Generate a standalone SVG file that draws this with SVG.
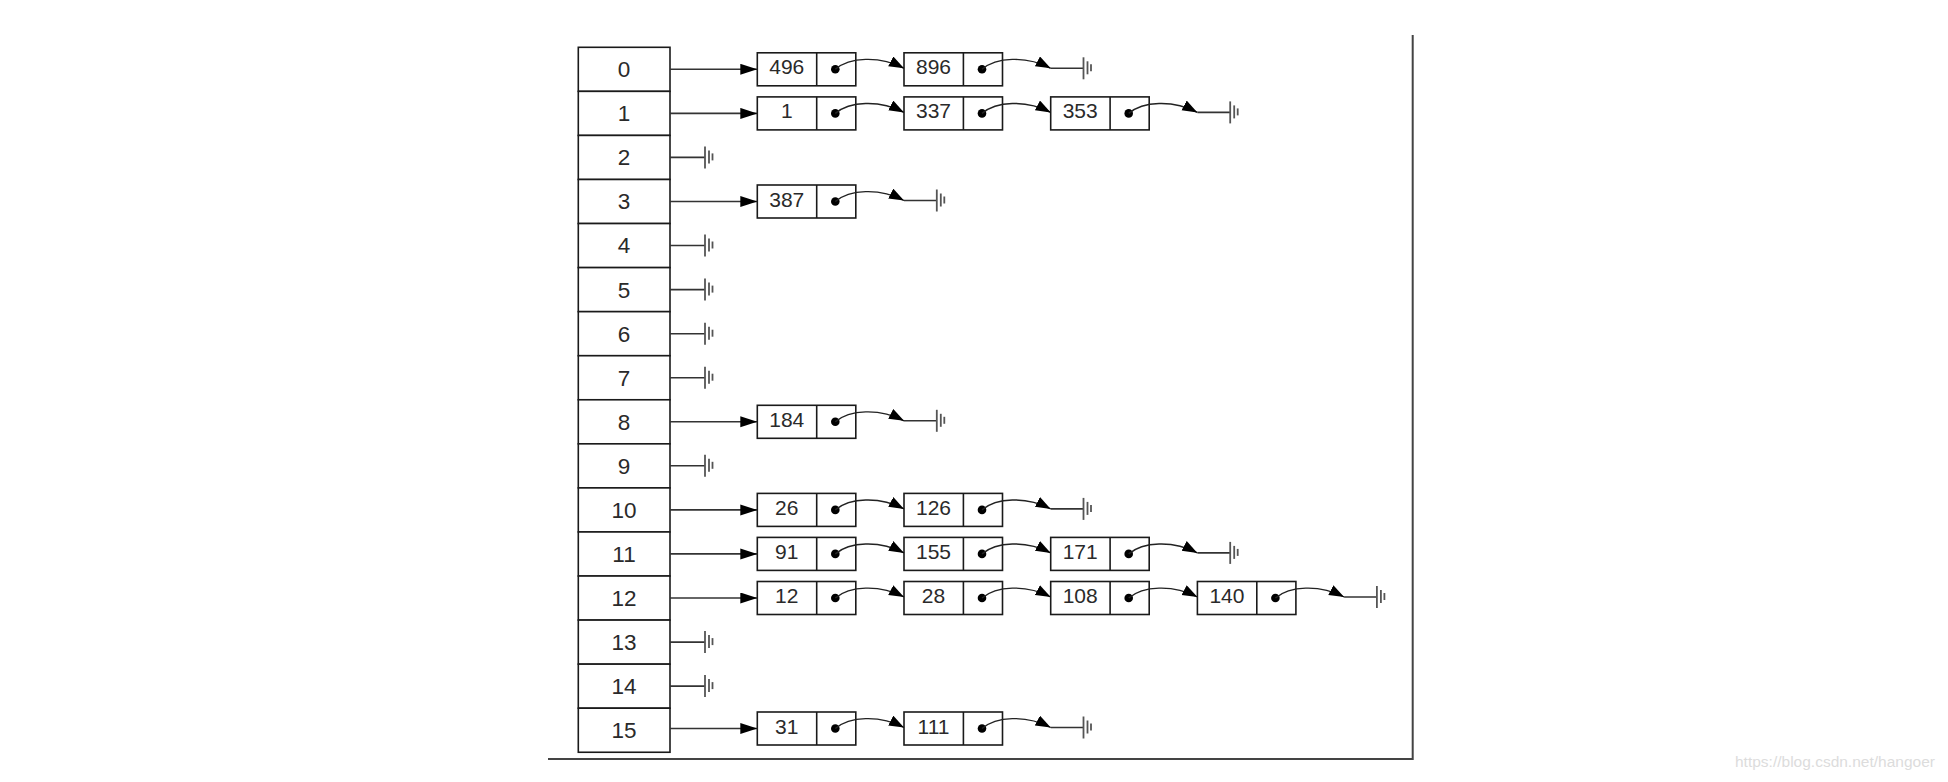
<svg xmlns="http://www.w3.org/2000/svg" xmlns:xlink="http://www.w3.org/1999/xlink" width="1948" height="782" viewBox="0 0 1948 782">
<style>
.cell{fill:#fff;stroke:#1a1a1a;stroke-width:1.6}
.box{fill:#fff;stroke:#1a1a1a;stroke-width:1.6}
.div{stroke:#1a1a1a;stroke-width:1.6}
.lbl{font-family:"Liberation Sans",Arial,sans-serif;font-size:21px;fill:#2a2a2a;text-anchor:middle}
.tl{font-size:22.5px}
.dot{fill:#000}
.ln{fill:none;stroke:#333;stroke-width:1.6}
.crv{fill:none;stroke:#222;stroke-width:1.4}
.gnd line{stroke:#555;stroke-width:1.8}
.frame{fill:none;stroke:#444;stroke-width:2}
.wm{font-family:"Liberation Sans",Arial,sans-serif;font-size:15.5px;fill:#dcdcdc}
</style>
<defs>
<marker id="ah" markerUnits="userSpaceOnUse" markerWidth="18" markerHeight="12" refX="17" refY="5.5" orient="auto">
<path d="M0,0 L17,5.5 L0,11 z" fill="#000"/>
</marker>
<marker id="ah2" markerUnits="userSpaceOnUse" markerWidth="16" markerHeight="12" refX="15" refY="5.5" orient="auto">
<path d="M0,0 L15,5.5 L0,11 z" fill="#000"/>
</marker>
<g id="gnd" class="gnd">
<line x1="0" y1="-11" x2="0" y2="11"/>
<line x1="4" y1="-7" x2="4" y2="6"/>
<line x1="7.5" y1="-4" x2="7.5" y2="3"/>
</g>
</defs>
<rect width="1948" height="782" fill="#fff"/>

<g id="table">
<g id="cell-0"><rect class="cell" x="578.3" y="47.3" width="91.7" height="44.06"/><text class="lbl tl" x="624" y="77.2">0</text></g>
<g id="cell-1"><rect class="cell" x="578.3" y="91.36" width="91.7" height="44.06"/><text class="lbl tl" x="624" y="121.3">1</text></g>
<g id="cell-2"><rect class="cell" x="578.3" y="135.42" width="91.7" height="44.06"/><text class="lbl tl" x="624" y="165.3">2</text></g>
<g id="cell-3"><rect class="cell" x="578.3" y="179.48" width="91.7" height="44.06"/><text class="lbl tl" x="624" y="209.4">3</text></g>
<g id="cell-4"><rect class="cell" x="578.3" y="223.54" width="91.7" height="44.06"/><text class="lbl tl" x="624" y="253.4">4</text></g>
<g id="cell-5"><rect class="cell" x="578.3" y="267.6" width="91.7" height="44.06"/><text class="lbl tl" x="624" y="297.5">5</text></g>
<g id="cell-6"><rect class="cell" x="578.3" y="311.66" width="91.7" height="44.06"/><text class="lbl tl" x="624" y="341.6">6</text></g>
<g id="cell-7"><rect class="cell" x="578.3" y="355.72" width="91.7" height="44.06"/><text class="lbl tl" x="624" y="385.6">7</text></g>
<g id="cell-8"><rect class="cell" x="578.3" y="399.78" width="91.7" height="44.06"/><text class="lbl tl" x="624" y="429.7">8</text></g>
<g id="cell-9"><rect class="cell" x="578.3" y="443.84" width="91.7" height="44.06"/><text class="lbl tl" x="624" y="473.7">9</text></g>
<g id="cell-10"><rect class="cell" x="578.3" y="487.9" width="91.7" height="44.06"/><text class="lbl tl" x="624" y="517.8">10</text></g>
<g id="cell-11"><rect class="cell" x="578.3" y="531.96" width="91.7" height="44.06"/><text class="lbl tl" x="624" y="561.8">11</text></g>
<g id="cell-12"><rect class="cell" x="578.3" y="576.02" width="91.7" height="44.06"/><text class="lbl tl" x="624" y="605.9">12</text></g>
<g id="cell-13"><rect class="cell" x="578.3" y="620.08" width="91.7" height="44.06"/><text class="lbl tl" x="624" y="650">13</text></g>
<g id="cell-14"><rect class="cell" x="578.3" y="664.14" width="91.7" height="44.06"/><text class="lbl tl" x="624" y="694">14</text></g>
<g id="cell-15"><rect class="cell" x="578.3" y="708.2" width="91.7" height="44.06"/><text class="lbl tl" x="624" y="738.1">15</text></g>
</g>

<g id="nodes">
<g id="n496"><rect class="box" x="757.3" y="52.8" width="98.5" height="33"/><line class="div" x1="816.7" y1="52.8" x2="816.7" y2="85.8"/><text class="lbl" x="786.8" y="74.3">496</text><circle class="dot" cx="835.3" cy="69.3" r="4.3"/></g>
<g id="n896"><rect class="box" x="904" y="52.8" width="98.5" height="33"/><line class="div" x1="963.4" y1="52.8" x2="963.4" y2="85.8"/><text class="lbl" x="933.5" y="74.3">896</text><circle class="dot" cx="982" cy="69.3" r="4.3"/></g>
<g id="n1"><rect class="box" x="757.3" y="96.9" width="98.5" height="33"/><line class="div" x1="816.7" y1="96.9" x2="816.7" y2="129.9"/><text class="lbl" x="786.8" y="118.4">1</text><circle class="dot" cx="835.3" cy="113.4" r="4.3"/></g>
<g id="n337"><rect class="box" x="904" y="96.9" width="98.5" height="33"/><line class="div" x1="963.4" y1="96.9" x2="963.4" y2="129.9"/><text class="lbl" x="933.5" y="118.4">337</text><circle class="dot" cx="982" cy="113.4" r="4.3"/></g>
<g id="n353"><rect class="box" x="1050.7" y="96.9" width="98.5" height="33"/><line class="div" x1="1110.1" y1="96.9" x2="1110.1" y2="129.9"/><text class="lbl" x="1080.2" y="118.4">353</text><circle class="dot" cx="1128.7" cy="113.4" r="4.3"/></g>
<g id="n387"><rect class="box" x="757.3" y="185" width="98.5" height="33"/><line class="div" x1="816.7" y1="185" x2="816.7" y2="218"/><text class="lbl" x="786.8" y="206.5">387</text><circle class="dot" cx="835.3" cy="201.5" r="4.3"/></g>
<g id="n184"><rect class="box" x="757.3" y="405.3" width="98.5" height="33"/><line class="div" x1="816.7" y1="405.3" x2="816.7" y2="438.3"/><text class="lbl" x="786.8" y="426.8">184</text><circle class="dot" cx="835.3" cy="421.8" r="4.3"/></g>
<g id="n26"><rect class="box" x="757.3" y="493.4" width="98.5" height="33"/><line class="div" x1="816.7" y1="493.4" x2="816.7" y2="526.4"/><text class="lbl" x="786.8" y="514.9">26</text><circle class="dot" cx="835.3" cy="509.9" r="4.3"/></g>
<g id="n126"><rect class="box" x="904" y="493.4" width="98.5" height="33"/><line class="div" x1="963.4" y1="493.4" x2="963.4" y2="526.4"/><text class="lbl" x="933.5" y="514.9">126</text><circle class="dot" cx="982" cy="509.9" r="4.3"/></g>
<g id="n91"><rect class="box" x="757.3" y="537.4" width="98.5" height="33"/><line class="div" x1="816.7" y1="537.4" x2="816.7" y2="570.4"/><text class="lbl" x="786.8" y="558.9">91</text><circle class="dot" cx="835.3" cy="553.9" r="4.3"/></g>
<g id="n155"><rect class="box" x="904" y="537.4" width="98.5" height="33"/><line class="div" x1="963.4" y1="537.4" x2="963.4" y2="570.4"/><text class="lbl" x="933.5" y="558.9">155</text><circle class="dot" cx="982" cy="553.9" r="4.3"/></g>
<g id="n171"><rect class="box" x="1050.7" y="537.4" width="98.5" height="33"/><line class="div" x1="1110.1" y1="537.4" x2="1110.1" y2="570.4"/><text class="lbl" x="1080.2" y="558.9">171</text><circle class="dot" cx="1128.7" cy="553.9" r="4.3"/></g>
<g id="n12"><rect class="box" x="757.3" y="581.5" width="98.5" height="33"/><line class="div" x1="816.7" y1="581.5" x2="816.7" y2="614.5"/><text class="lbl" x="786.8" y="603">12</text><circle class="dot" cx="835.3" cy="598" r="4.3"/></g>
<g id="n28"><rect class="box" x="904" y="581.5" width="98.5" height="33"/><line class="div" x1="963.4" y1="581.5" x2="963.4" y2="614.5"/><text class="lbl" x="933.5" y="603">28</text><circle class="dot" cx="982" cy="598" r="4.3"/></g>
<g id="n108"><rect class="box" x="1050.7" y="581.5" width="98.5" height="33"/><line class="div" x1="1110.1" y1="581.5" x2="1110.1" y2="614.5"/><text class="lbl" x="1080.2" y="603">108</text><circle class="dot" cx="1128.7" cy="598" r="4.3"/></g>
<g id="n140"><rect class="box" x="1197.4" y="581.5" width="98.5" height="33"/><line class="div" x1="1256.8" y1="581.5" x2="1256.8" y2="614.5"/><text class="lbl" x="1226.9" y="603">140</text><circle class="dot" cx="1275.4" cy="598" r="4.3"/></g>
<g id="n31"><rect class="box" x="757.3" y="712" width="98.5" height="33"/><line class="div" x1="816.7" y1="712" x2="816.7" y2="745"/><text class="lbl" x="786.8" y="733.5">31</text><circle class="dot" cx="835.3" cy="728.5" r="4.3"/></g>
<g id="n111"><rect class="box" x="904" y="712" width="98.5" height="33"/><line class="div" x1="963.4" y1="712" x2="963.4" y2="745"/><text class="lbl" x="933.5" y="733.5">111</text><circle class="dot" cx="982" cy="728.5" r="4.3"/></g>
</g>

<g id="connectors">
<path class="ln" marker-end="url(#ah)" d="M670,69.3 H757.3"/>
<path class="ln" marker-end="url(#ah)" d="M670,113.4 H757.3"/>
<path class="ln" marker-end="url(#ah)" d="M670,201.5 H757.3"/>
<path class="ln" marker-end="url(#ah)" d="M670,421.8 H757.3"/>
<path class="ln" marker-end="url(#ah)" d="M670,509.9 H757.3"/>
<path class="ln" marker-end="url(#ah)" d="M670,553.9 H757.3"/>
<path class="ln" marker-end="url(#ah)" d="M670,598 H757.3"/>
<path class="ln" marker-end="url(#ah)" d="M670,728.5 H757.3"/>
<path class="ln" d="M670,157.4 H705"/><use xlink:href="#gnd" href="#gnd" x="705" y="157.4"/>
<path class="ln" d="M670,245.5 H705"/><use xlink:href="#gnd" href="#gnd" x="705" y="245.5"/>
<path class="ln" d="M670,289.6 H705"/><use xlink:href="#gnd" href="#gnd" x="705" y="289.6"/>
<path class="ln" d="M670,333.7 H705"/><use xlink:href="#gnd" href="#gnd" x="705" y="333.7"/>
<path class="ln" d="M670,377.7 H705"/><use xlink:href="#gnd" href="#gnd" x="705" y="377.7"/>
<path class="ln" d="M670,465.8 H705"/><use xlink:href="#gnd" href="#gnd" x="705" y="465.8"/>
<path class="ln" d="M670,642.1 H705"/><use xlink:href="#gnd" href="#gnd" x="705" y="642.1"/>
<path class="ln" d="M670,686.1 H705"/><use xlink:href="#gnd" href="#gnd" x="705" y="686.1"/>
<path class="crv" marker-end="url(#ah2)" d="M835.3,69.3 c14,-12 44,-14 68.7,-1"/>
<path class="crv" marker-end="url(#ah2)" d="M982,69.3 c14,-12 44,-14 68.7,-1"/>
<path class="ln" d="M1050.7,68.3 H1083.5"/><use xlink:href="#gnd" href="#gnd" x="1083.5" y="68.3"/>
<path class="crv" marker-end="url(#ah2)" d="M835.3,113.4 c14,-12 44,-14 68.7,-1"/>
<path class="crv" marker-end="url(#ah2)" d="M982,113.4 c14,-12 44,-14 68.7,-1"/>
<path class="crv" marker-end="url(#ah2)" d="M1128.7,113.4 c14,-12 44,-14 68.7,-1"/>
<path class="ln" d="M1197.4,112.4 H1230.2"/><use xlink:href="#gnd" href="#gnd" x="1230.2" y="112.4"/>
<path class="crv" marker-end="url(#ah2)" d="M835.3,201.5 c14,-12 44,-14 68.7,-1"/>
<path class="ln" d="M904,200.5 H936.8"/><use xlink:href="#gnd" href="#gnd" x="936.8" y="200.5"/>
<path class="crv" marker-end="url(#ah2)" d="M835.3,421.8 c14,-12 44,-14 68.7,-1"/>
<path class="ln" d="M904,420.8 H936.8"/><use xlink:href="#gnd" href="#gnd" x="936.8" y="420.8"/>
<path class="crv" marker-end="url(#ah2)" d="M835.3,509.9 c14,-12 44,-14 68.7,-1"/>
<path class="crv" marker-end="url(#ah2)" d="M982,509.9 c14,-12 44,-14 68.7,-1"/>
<path class="ln" d="M1050.7,508.9 H1083.5"/><use xlink:href="#gnd" href="#gnd" x="1083.5" y="508.9"/>
<path class="crv" marker-end="url(#ah2)" d="M835.3,553.9 c14,-12 44,-14 68.7,-1"/>
<path class="crv" marker-end="url(#ah2)" d="M982,553.9 c14,-12 44,-14 68.7,-1"/>
<path class="crv" marker-end="url(#ah2)" d="M1128.7,553.9 c14,-12 44,-14 68.7,-1"/>
<path class="ln" d="M1197.4,552.9 H1230.2"/><use xlink:href="#gnd" href="#gnd" x="1230.2" y="552.9"/>
<path class="crv" marker-end="url(#ah2)" d="M835.3,598 c14,-12 44,-14 68.7,-1"/>
<path class="crv" marker-end="url(#ah2)" d="M982,598 c14,-12 44,-14 68.7,-1"/>
<path class="crv" marker-end="url(#ah2)" d="M1128.7,598 c14,-12 44,-14 68.7,-1"/>
<path class="crv" marker-end="url(#ah2)" d="M1275.4,598 c14,-12 44,-14 68.7,-1"/>
<path class="ln" d="M1344.1,597 H1376.9"/><use xlink:href="#gnd" href="#gnd" x="1376.9" y="597"/>
<path class="crv" marker-end="url(#ah2)" d="M835.3,728.5 c14,-12 44,-14 68.7,-1"/>
<path class="crv" marker-end="url(#ah2)" d="M982,728.5 c14,-12 44,-14 68.7,-1"/>
<path class="ln" d="M1050.7,727.5 H1083.5"/><use xlink:href="#gnd" href="#gnd" x="1083.5" y="727.5"/>
</g>

<g id="frame">
<path class="frame" d="M1412.7,35 V759 H548"/>
</g>
<text class="wm" x="1735" y="767">https://blog.csdn.net/hangoer</text>
</svg>
